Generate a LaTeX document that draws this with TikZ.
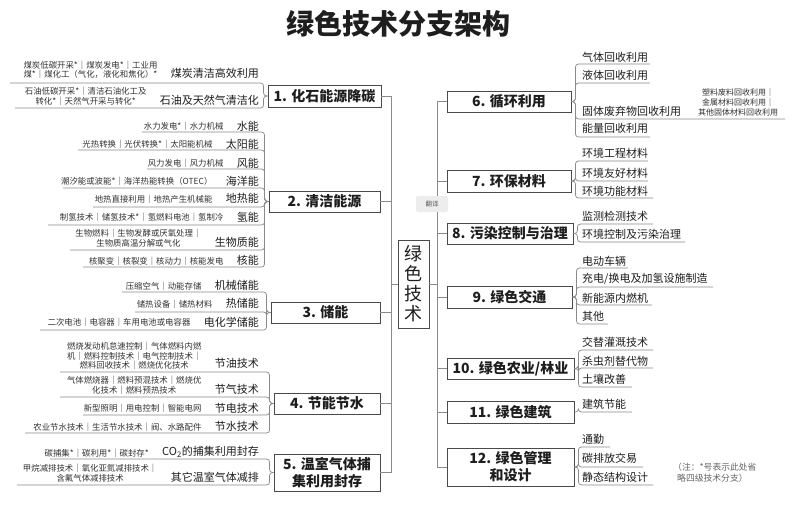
\documentclass[tikz,border=0pt]{standalone}
\usepackage{fontspec}
\setmainfont{Noto Sans CJK SC}
\definecolor{linec}{HTML}{8A8A8A}
\definecolor{boxc}{HTML}{4A4A4A}
\definecolor{txt}{HTML}{1E1E1E}
\definecolor{txt2}{HTML}{333333}
\tikzset{
  conn/.style={draw=linec, line width=0.7pt, rounded corners=3pt},
  trunk/.style={draw=linec, line width=0.7pt},
  lvone/.style={draw=boxc, line width=0.9pt, inner sep=0pt, align=center, text=txt,
    font=\bfseries\fontsize{14}{17}\selectfont},
  lab/.style={inner sep=0pt, text=txt, font=\fontsize{11}{13}\selectfont},
  det/.style={inner sep=0pt, align=center, text=txt2, font=\fontsize{8.4}{9.5}\selectfont},
  leaf/.style={inner sep=0pt, anchor=west, text=txt, font=\fontsize{11}{13}\selectfont},
}
% #1 name, #2 parent, #3 label y, #4 underline y, #5 underline start x, #6 label, #7 detail, #8 detail y
\newcommand{\LeftItem}[8]{%
  \node[lab, anchor=east] (#1) at (259,#3) {#6};
  \coordinate (#1s) at (#5,#4);
  \draw[conn] (#2.west) -- ++(-4,0) |- (#1s);
  \coordinate (#1x) at ([xshift=-13pt]#1.west);
  \coordinate (#1y) at (0,#8);
  \node[det, anchor=east] (#1d) at (#1x |- #1y) {#7};
}
% #1 name, #2 parent, #3 text y, #4 underline y, #5 underline end x, #6 text
\newcommand{\RightItem}[6]{%
  \coordinate (#1e) at (#5,#4);
  \draw[conn] (#2.east) -- ++(4,0) |- (#1e);
  \node[leaf] (#1) at (582,#3) {#6};
}
\begin{document}
\begin{tikzpicture}[x=1pt,y=-1pt]
\fill[white] (0,0) rectangle (800,511);
\useasboundingbox (0,0) rectangle (800,511);

\node[text=txt, font=\bfseries\fontsize{28}{32}\selectfont] (title) at (398,24) {绿色技术分支架构};

% root
\node[draw=boxc, line width=0.9pt, minimum width=31pt, minimum height=88pt, inner sep=0pt,
  align=center, text=txt, font=\fontsize{18}{20}\selectfont] (root) at (413.5,284) {绿\\色\\技\\术};

% left level-1
\node[lvone, minimum width=113pt, minimum height=22pt] (n1) at (324.5,96) {1. 化石能源降碳};
\node[lvone, minimum width=111pt, minimum height=21pt] (n2) at (324.5,201.5) {2. 清洁能源};
\node[lvone, minimum width=109pt, minimum height=21pt] (n3) at (325.5,312.5) {3. 储能};
\node[lvone, minimum width=106pt, minimum height=21pt] (n4) at (327,403.5) {4. 节能节水};
\node[lvone, minimum width=106pt, minimum height=37pt] (n5) at (327,472.5) {5. 温室气体捕\\集利用封存};

% right level-1
\node[lvone, minimum width=124pt, minimum height=21pt] (n6) at (509,101.5) {6. 循环利用};
\node[lvone, minimum width=124pt, minimum height=22pt] (n7) at (509,181) {7. 环保材料};
\node[lvone, minimum width=126pt, minimum height=21pt] (n8) at (510,233.5) {8. 污染控制与治理};
\node[lvone, minimum width=125pt, minimum height=22pt] (n9) at (509.5,297) {9. 绿色交通};
\node[lvone, minimum width=127pt, minimum height=21pt] (n10) at (510.5,368.5) {10. 绿色农业/林业};
\node[lvone, minimum width=127pt, minimum height=22pt] (n11) at (510.5,412) {11. 绿色建筑};
\node[lvone, minimum width=127pt, minimum height=38pt] (n12) at (510.5,467) {12. 绿色管理\\和设计};

% trunks
\coordinate (ltx) at (391,0);
\coordinate (rtx) at (437,0);
\draw[trunk] (n1.east -| ltx) -- (n5.east -| ltx);
\foreach \n in {n1,n2,n3,n4,n5} {\draw[trunk] (\n.east) -- (\n.east -| ltx);}
\draw[trunk] (root.west) -- (root.west -| ltx);
\draw[trunk] (n6.west -| rtx) -- (n12.west -| rtx);
\foreach \n in {n6,n7,n8,n9,n10,n11,n12} {\draw[trunk] (\n.west) -- (\n.west -| rtx);}
\draw[trunk] (root.east) -- (root.east -| rtx);

\node[fill=black!7, rounded corners=2pt, minimum width=32pt, minimum height=16pt, inner sep=0pt,
  text=black!65, font=\fontsize{6.5}{7}\selectfont] (fanyi) at (432,204) {翻译};

% left group 1
\LeftItem{a1}{n1}{73}{83}{10}{煤炭清洁高效利用}{煤炭低碳开采*｜煤炭发电*｜工业用\\煤*｜煤化工（气化，液化和焦化）*}{70}
\LeftItem{a2}{n1}{100}{108}{15}{石油及天然气清洁化}{石油低碳开采*｜清洁石油化工及\\转化*｜天然气开采与转化*}{96.5}
% left group 2
\LeftItem{b1}{n2}{126}{132}{142}{水能}{水力发电*｜水力机械}{126}
\LeftItem{b2}{n2}{144}{150}{78}{太阳能}{光热转换｜光伏转换*｜太阳能机械}{144}
\LeftItem{b3}{n2}{163}{169}{147}{风能}{风力发电｜风力机械}{163}
\LeftItem{b4}{n2}{181}{188}{63}{海洋能}{潮汐能或波能*｜海洋热能转换（OTEC）}{181}
\LeftItem{b5}{n2}{198}{207}{93}{地热能}{地热直接利用｜地热产生机械能}{199}
\LeftItem{b6}{n2}{217}{225}{48}{氢能}{制氢技术｜储氢技术*｜氢燃料电池｜氢制冷}{217}
\LeftItem{b7}{n2}{242}{250}{70}{生物质能}{生物燃料｜生物发酵或厌氧处理｜\\生物质高温分解或气化}{238}
\LeftItem{b8}{n2}{260}{267}{83}{核能}{核聚变｜核裂变｜核动力｜核能发电}{261}
% left group 3
\LeftItem{d1}{n3}{285}{292}{122}{机械储能}{压缩空气｜动能存储}{286}
\LeftItem{d2}{n3}{303}{312}{135}{热储能}{储热设备｜储热材料}{304}
\LeftItem{d3}{n3}{322}{330}{40}{电化学储能}{二次电池｜电容器｜车用电池或电容器}{322}
% left group 4
\LeftItem{e1}{n4}{363}{372}{60}{节油技术}{燃烧发动机怠速控制｜气体燃料内燃\\机｜燃料控制技术｜电气控制技术｜\\燃料回收技术｜燃烧优化技术}{356}
\LeftItem{e2}{n4}{389}{397}{60}{节气技术}{气体燃烧器｜燃料预混技术｜燃烧优\\化技术｜燃料预热技术}{385.5}
\LeftItem{e3}{n4}{408}{415}{83}{节电技术}{新型照明｜用电控制｜智能电网}{408}
\LeftItem{e4}{n4}{426}{433}{25}{节水技术}{农业节水技术｜生活节水技术｜阀、水路配件}{427}
% left group 5
\LeftItem{f1}{n5}{452}{459}{50}{CO\textsubscript{2}的捕集利用封存}{碳捕集*｜碳利用*｜碳封存*}{453}
\LeftItem{f2}{n5}{477}{485}{17}{其它温室气体减排}{甲烷减排技术｜氧化亚氮减排技术｜\\含氟气体减排技术}{473}

% right items
\RightItem{c61}{n6}{57}{64}{650}{气体回收利用}
\RightItem{c62}{n6}{75}{83}{650}{液体回收利用}
\RightItem{c63}{n6}{111}{119}{785}{固体废弃物回收利用}
\RightItem{c64}{n6}{128}{137}{650}{能量回收利用}
\node[det, font=\fontsize{8}{10}\selectfont] (c63d) at (738,102) {塑料废料回收利用｜\\金属材料回收利用｜\\其他固体材料回收利用};

\RightItem{c71}{n7}{153}{161}{648}{环境工程材料}
\RightItem{c72}{n7}{173}{181}{648}{环境友好材料}
\RightItem{c73}{n7}{191}{198}{653}{环境功能材料}

\RightItem{c81}{n8}{216}{224}{653}{监测检测技术}
\RightItem{c82}{n8}{234}{242}{685}{环境控制及污染治理}

\RightItem{c91}{n9}{261}{268}{628}{电动车辆}
\RightItem{c92}{n9}{279}{287}{713}{充电/换电及加氢设施制造}
\RightItem{c93}{n9}{298}{305}{652}{新能源内燃机}
\RightItem{c94}{n9}{316}{324}{608}{其他}

\RightItem{c101}{n10}{342}{350}{653}{交替灌溉技术}
\RightItem{c102}{n10}{361}{368}{653}{杀虫剂替代物}
\RightItem{c103}{n10}{379}{387}{632}{土壤改善}

\RightItem{c111}{n11}{404}{412}{632}{建筑节能}

\RightItem{c121}{n12}{439}{447}{610}{通勤}
\RightItem{c122}{n12}{458}{467}{643}{碳排放交易}
\RightItem{c123}{n12}{477}{485}{653}{静态结构设计}

\node[inner sep=0pt, align=left, text=black!60, font=\fontsize{8.8}{11}\selectfont, anchor=west] (note) at (673,472.5) {（注：*号表示此处省\\\hspace*{4pt}略四级技术分支）};
\end{tikzpicture}
\end{document}
